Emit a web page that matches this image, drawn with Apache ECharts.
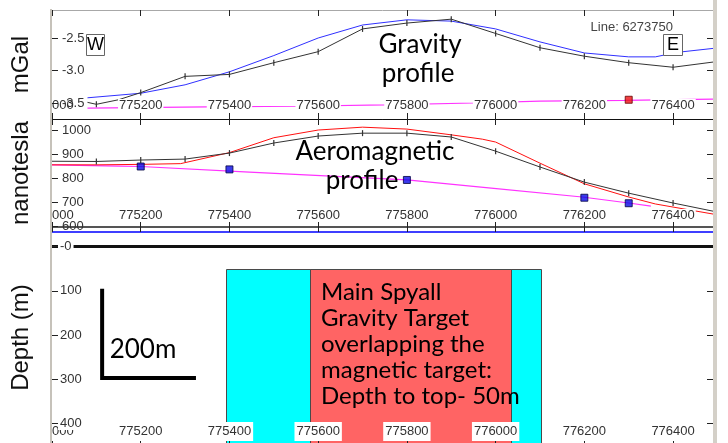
<!DOCTYPE html>
<html>
<head>
<meta charset="utf-8">
<script src="https://cdn.jsdelivr.net/npm/echarts@6/dist/echarts.min.js"></script>
<style>
  html, body { margin: 0; padding: 0; background: #fff; }
  #chart { width: 728px; height: 443px; }
</style>
</head>
<body>
<div id="chart"></div>
<script>
// Easting range shared by the three stacked panels
const eastingMin = 775000;
const eastingMax = 776490;

// Gravity panel (mGal)
const gravObsEast  = [775080, 775100, 775150, 775200, 775300, 775400, 775500, 775600, 775700, 775800, 775900, 776000, 776100, 776200, 776300, 776400, 776490];
const gravObs      = [-3.49, -3.52, -3.45, -3.34, -3.09, -3.06, -2.88, -2.71, -2.36, -2.27, -2.21, -2.43, -2.65, -2.78, -2.88, -2.95, -2.87];
const gravCalcEast = [775080, 775200, 775300, 775400, 775500, 775600, 775700, 775800, 775900, 776000, 776100, 776200, 776300, 776360, 776410, 776490];
const gravCalc     = [-3.42, -3.35, -3.22, -3.02, -2.77, -2.50, -2.30, -2.22, -2.24, -2.36, -2.56, -2.73, -2.79, -2.79, -2.72, -2.66];
const gravRegEast  = [775080, 775350, 775550, 775750, 775950, 776100, 776290, 776490];
const gravReg      = [-3.58, -3.56, -3.55, -3.53, -3.50, -3.47, -3.46, -3.44];
const gravStnEast  = [776300];
const gravStn      = [-3.45];
const gravTicks    = [-3.5, -3.0, -2.5];

// Aeromagnetic panel (nT)
const magObsEast   = [775000, 775100, 775200, 775300, 775400, 775500, 775600, 775700, 775800, 775900, 776000, 776100, 776200, 776300, 776400, 776490];
const magObs       = [870, 869, 875, 879, 904, 946, 975, 987, 987, 971, 912, 846, 783, 737, 696, 662];
const magCalcEast  = [775000, 775100, 775200, 775290, 775400, 775500, 775600, 775700, 775800, 775900, 775970, 776000, 776100, 776200, 776300, 776360, 776490];
const magCalc      = [855, 855, 857, 860, 906, 968, 1000, 1012, 1004, 980, 962, 950, 862, 776, 721, 692, 650];
const magRegEast   = [775000, 775150, 775200, 775445, 775800, 775990, 776195, 776300, 776350];
const magReg       = [855, 850, 848, 825, 792, 758, 721, 696, 683];
const magStnEast   = [775200, 775400, 775800, 776200, 776300];
const magStn       = [848, 836, 792, 718, 695];
const magTicks     = [600, 700, 800, 900, 1000];

// Depth section (m)
const depthTicks   = [0, 100, 200, 300, 400];
const surfaceEast  = [775000, 776490];
const surfaceDepth = [0, 0];
const targetNames  = ['Magnetic target', 'Gravity target'];
const targetWest   = [775392, 775582];
const targetEast   = [776102, 776035];
const targetTop    = [50, 50];
const targetBase   = [460, 460];
const scaleBarEast  = [775113, 775113, 775320];
const scaleBarDepth = [100, 297, 297];

const targetFill = ['#00ffff', '#ff6464'];

const zip = (xs, ys) => xs.map((x, i) => [x, ys[i]]);
const isStation = v => v[0] % 100 === 0 && v[0] >= 775100 && v[0] <= 776400;

const tickFont = { fontFamily: 'Liberation Sans', fontSize: 13, color: '#333' };
const nameFont = { fontFamily: 'Liberation Sans', fontSize: 24, color: '#111' };
const L = 52, R = 15;

function xAxisBase(grid, extra) {
  return Object.assign({
    type: 'value', gridIndex: grid, min: eastingMin, max: eastingMax, interval: 200,
    splitLine: { show: false }, z: 10
  }, extra);
}
function axisLineStyle(color, width) {
  return { show: true, onZero: false, lineStyle: { color: color, width: width } };
}
function bottomLabels(margin, pad) {
  return {
    show: true, inside: true, margin: margin, showMinLabel: true, showMaxLabel: false,
    backgroundColor: '#fff', padding: pad, formatter: v => String(v), ...tickFont
  };
}
function yLeft(grid, min, max, ticks, name, fmt, extra, labelExtra) {
  return Object.assign({
    type: 'value', gridIndex: grid, position: 'left', min: min, max: max,
    splitLine: { show: false }, axisLine: { show: false, onZero: false },
    axisTick: { show: true, inside: true, length: 6, customValues: ticks, lineStyle: { color: '#222' } },
    axisLabel: Object.assign({ show: true, inside: true, margin: 10, customValues: ticks, formatter: fmt, ...tickFont }, labelExtra || {}),
    name: name, nameLocation: 'middle', nameRotate: 90, nameGap: 19, nameTextStyle: nameFont, z: 30
  }, extra);
}
function yRight(grid, min, max, ticks, inverse) {
  return {
    type: 'value', gridIndex: grid, position: 'right', min: min, max: max, inverse: !!inverse,
    splitLine: { show: false }, axisLine: { show: false, onZero: false }, axisLabel: { show: false },
    axisTick: { show: true, inside: true, length: 6, customValues: ticks, lineStyle: { color: '#222' } }
  };
}

const option = {
  animation: false,
  backgroundColor: '#fff',
  grid: [
    { left: L, right: R, top: 10, height: 109, outerBoundsMode: 'none' },
    { left: L, right: R, top: 119, height: 108, outerBoundsMode: 'none' },
    { left: L, right: R, top: 232, height: 211, outerBoundsMode: 'none' }
  ],
  xAxis: [
    xAxisBase(0, { position: 'bottom', axisLine: axisLineStyle('#111', 1),
      axisTick: { show: true, inside: true, length: 6, lineStyle: { color: '#222' } },
      axisLabel: bottomLabels(7, [0, 1, 0, 1]) }),
    xAxisBase(0, { position: 'top', axisLine: axisLineStyle('#a8a8a8', 1),
      axisTick: { show: true, inside: true, length: 6, lineStyle: { color: '#222' } },
      axisLabel: { show: false } }),
    xAxisBase(1, { position: 'bottom', axisLine: axisLineStyle('#555', 2),
      axisTick: { show: true, inside: true, length: 5, lineStyle: { color: '#222' } },
      axisLabel: bottomLabels(5, [0, 1, 0, 1]) }),
    xAxisBase(1, { position: 'top', axisLine: axisLineStyle('#111', 1),
      axisTick: { show: true, inside: true, length: 6, lineStyle: { color: '#222' } },
      axisLabel: { show: false } }),
    xAxisBase(2, { position: 'bottom', axisLine: { show: false, onZero: false },
      axisTick: { show: true, inside: true, length: 5, lineStyle: { color: '#222' } },
      axisLabel: bottomLabels(2, [3, 2, 3, 2]) }),
    xAxisBase(2, { position: 'top', axisLine: axisLineStyle('#0000ff', 1.5),
      axisTick: { show: true, inside: false, length: 5, lineStyle: { color: '#222' } },
      axisLabel: { show: false } })
  ],
  yAxis: [
    yLeft(0, -3.746, -2.069, gravTicks, 'mGal', v => v.toFixed(1), {}),
    yRight(0, -3.746, -2.069, gravTicks),
    yLeft(1, 596, 1046, magTicks, 'nanotesla', v => String(v), {}),
    yRight(1, 596, 1046, magTicks),
    yLeft(2, -33, 444, depthTicks, 'Depth (m)', v => (v === 0 ? '-0' : String(v)), { inverse: true },
      { margin: 6, backgroundColor: '#fff', padding: [0, 2, 0, 2] }),
    yRight(2, -33, 444, [100, 200, 300, 400], true)
  ],
  series: [
    // Gravity panel
    { type: 'line', name: 'Regional gravity', xAxisIndex: 0, yAxisIndex: 0, data: zip(gravRegEast, gravReg),
      symbol: 'none', lineStyle: { color: '#ff33ff', width: 1.2 } },
    { type: 'line', name: 'Calculated gravity', xAxisIndex: 0, yAxisIndex: 0, data: zip(gravCalcEast, gravCalc),
      symbol: 'none', lineStyle: { color: '#3030ff', width: 1 } },
    { type: 'line', name: 'Observed gravity', xAxisIndex: 0, yAxisIndex: 0, data: zip(gravObsEast, gravObs),
      symbol: v => isStation(v) ? 'rect' : 'none', symbolSize: [1.2, 6], showSymbol: true,
      itemStyle: { color: '#333' }, lineStyle: { color: '#333', width: 1 } },
    { type: 'scatter', name: 'Gravity station', xAxisIndex: 0, yAxisIndex: 0, data: zip(gravStnEast, gravStn),
      symbol: 'rect', symbolSize: 7, z: 4, itemStyle: { color: '#ee1111', borderColor: '#600', borderWidth: 1 } },

    // Aeromagnetic panel
    { type: 'line', name: 'Regional magnetic', xAxisIndex: 2, yAxisIndex: 2, data: zip(magRegEast, magReg),
      symbol: 'none', lineStyle: { color: '#ff33ff', width: 1.2 } },
    { type: 'line', name: 'Calculated magnetic', xAxisIndex: 2, yAxisIndex: 2, data: zip(magCalcEast, magCalc),
      symbol: 'none', lineStyle: { color: '#ff1010', width: 1 } },
    { type: 'line', name: 'Observed magnetic', xAxisIndex: 2, yAxisIndex: 2, data: zip(magObsEast, magObs),
      symbol: v => isStation(v) ? 'rect' : 'none', symbolSize: [1.2, 6], showSymbol: true,
      itemStyle: { color: '#333' }, lineStyle: { color: '#333', width: 1 } },
    { type: 'scatter', name: 'Magnetic station', xAxisIndex: 2, yAxisIndex: 2, data: zip(magStnEast, magStn),
      symbol: 'rect', symbolSize: 7, z: 4, itemStyle: { color: '#0a0ae6', borderColor: '#000040', borderWidth: 1 } },

    // Depth section
    { type: 'custom', name: 'Targets', xAxisIndex: 4, yAxisIndex: 4,
      data: targetWest.map((w, i) => ({ name: targetNames[i], value: [w, targetEast[i], targetTop[i], targetBase[i]] })),
      encode: { x: [0, 1], y: [2, 3] },
      renderItem: (params, api) => {
        const a = api.coord([api.value(0), api.value(2)]);
        const b = api.coord([api.value(1), api.value(3)]);
        const cs = params.coordSys;
        const y0 = Math.max(a[1], cs.y);
        const y1 = Math.min(b[1], cs.y + cs.height + 2);
        return { type: 'rect',
          shape: { x: Math.round(a[0]) + 0.5, y: Math.round(y0) + 0.5, width: Math.round(b[0] - a[0]), height: y1 - y0 },
          style: { fill: targetFill[params.dataIndex], stroke: '#4a4a4a', lineWidth: 1 } };
      } },
    { type: 'line', name: 'Surface', xAxisIndex: 4, yAxisIndex: 4, data: zip(surfaceEast, surfaceDepth),
      symbol: 'none', lineStyle: { color: '#111', width: 3 } },
    { type: 'line', name: 'Scale', xAxisIndex: 4, yAxisIndex: 4, data: zip(scaleBarEast, scaleBarDepth),
      symbol: 'none', lineStyle: { color: '#000', width: 4, cap: 'square', join: 'miter' } }
  ],
  graphic: [
    // masks for the clipped first easting label in each panel
    { type: 'rect', shape: { x: 0, y: 94, width: 51, height: 18 }, style: { fill: '#fff' }, z: 20 },
    { type: 'rect', shape: { x: 0, y: 204, width: 51, height: 20 }, style: { fill: '#fff' }, z: 20 },
    { type: 'rect', shape: { x: 0, y: 419, width: 51, height: 24 }, style: { fill: '#fff' }, z: 20 },
    // window frame
    { type: 'line', shape: { x1: 51, y1: 9, x2: 51, y2: 443 }, style: { stroke: '#c6c2ba', lineWidth: 2 }, z: 25 },
    { type: 'rect', shape: { x: 713, y: 0, width: 4, height: 443 }, style: { fill: '#d4d0c8' }, z: 25 },
    // line id and end markers
    { type: 'text', style: { x: 673, y: 27, text: 'Line: 6273750', textAlign: 'right', textVerticalAlign: 'middle',
      font: '13px "Liberation Sans"', fill: '#444' }, z: 40 },
    { type: 'rect', shape: { x: 86.5, y: 34.5, width: 18, height: 21 }, style: { fill: '#fff', stroke: '#666', lineWidth: 1 }, z: 40 },
    { type: 'text', style: { x: 95.5, y: 45.5, text: 'W', textAlign: 'center', textVerticalAlign: 'middle',
      font: '18px "Liberation Sans"', fill: '#000' }, z: 41 },
    { type: 'rect', shape: { x: 663.5, y: 34.5, width: 19, height: 21 }, style: { fill: '#fff', stroke: '#666', lineWidth: 1 }, z: 40 },
    { type: 'text', style: { x: 673, y: 45.5, text: 'E', textAlign: 'center', textVerticalAlign: 'middle',
      font: '18px "Liberation Sans"', fill: '#000' }, z: 41 },
    // panel titles
    { type: 'text', style: { x: 420, y: 45, text: 'Gravity', textAlign: 'center', textVerticalAlign: 'middle',
      font: '26px Lato', fill: '#000' }, z: 40 },
    { type: 'text', style: { x: 418, y: 74, text: 'profile', textAlign: 'center', textVerticalAlign: 'middle',
      font: '26px Lato', fill: '#000' }, z: 40 },
    { type: 'text', style: { x: 375, y: 152, text: 'Aeromagnetic', textAlign: 'center', textVerticalAlign: 'middle',
      font: '26px Lato', fill: '#000' }, z: 40 },
    { type: 'text', style: { x: 362, y: 181, text: 'profile', textAlign: 'center', textVerticalAlign: 'middle',
      font: '26px Lato', fill: '#000' }, z: 40 },
    // section annotations
    { type: 'text', style: { x: 143, y: 350, text: '200m', textAlign: 'center', textVerticalAlign: 'middle',
      font: '26px Lato', fill: '#000' }, z: 40 },
    { type: 'text', style: { x: 321, y: 279, text: 'Main Spyall\nGravity Target\noverlapping the\nmagnetic target:\nDepth to top- 50m',
      textAlign: 'left', textVerticalAlign: 'top', font: '24px Lato', lineHeight: 26, fill: '#000' }, z: 40 }
  ]
};

const chart = echarts.init(document.getElementById('chart'), null, { renderer: 'canvas' });
chart.setOption(option);
</script>
</body>
</html>
